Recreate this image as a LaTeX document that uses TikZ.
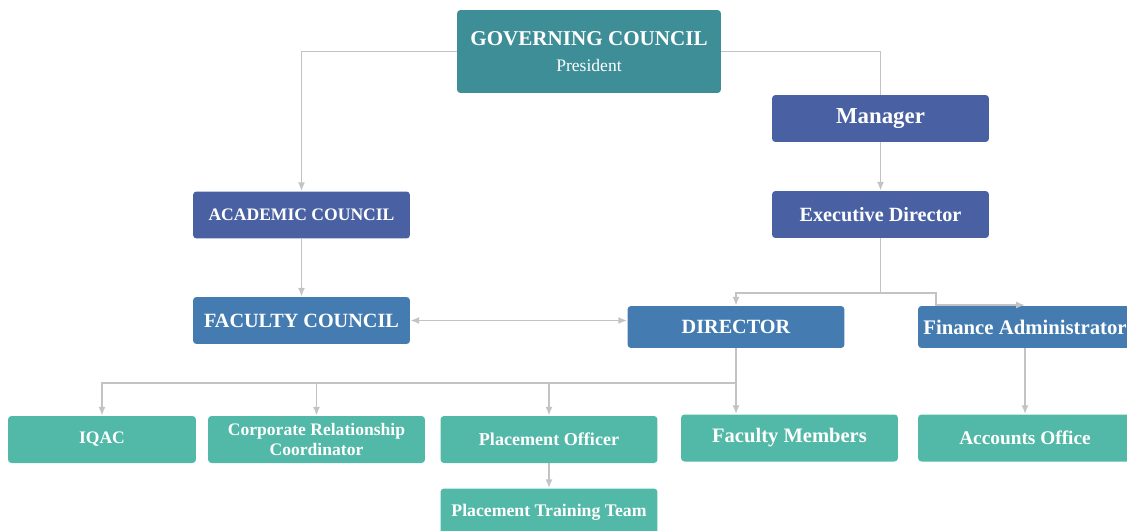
\documentclass[tikz,border=0pt]{standalone}
\usepackage{fontspec}
\setmainfont{Liberation Serif}
\usepackage{tikz}
\usetikzlibrary{arrows.meta, calc, positioning}

\definecolor{govteal}{HTML}{3E8E97}
\definecolor{slateblue}{HTML}{4961A2}
\definecolor{steelblue}{HTML}{447CB1}
\definecolor{mintgreen}{HTML}{52B8A7}
\definecolor{linegray}{HTML}{C3C3C3}

\begin{document}
\begin{tikzpicture}[x=0.02cm, y=-0.02cm,
  arro/.style = {draw=linegray, line width=1pt, -{Latex[length=5pt,width=4pt]}},
  arrboth/.style = {draw=linegray, line width=1pt, {Latex[length=5pt,width=4pt]}-{Latex[length=5pt,width=4pt]}},
  plain/.style = {draw=linegray, line width=1pt}]

\tikzstyle{unit} = [rounded corners=2pt, text=white, inner sep=2pt, minimum width=4.34cm, minimum height=0.94cm, font=\bfseries]
\tikzstyle{upper} = [unit, fill=slateblue]
\tikzstyle{middle} = [unit, fill=steelblue]
\tikzstyle{lower} = [unit, fill=mintgreen]

\useasboundingbox (0,0) rectangle (1127,531);

% top
\node[unit, fill=govteal, minimum width=5.28cm, minimum height=1.66cm, align=center]
  at (589,51.5) (gc) {\fontsize{12}{15}\selectfont GOVERNING COUNCIL\\[3pt]
  \fontsize{10}{12}\selectfont\mdseries President};
% right branch
\node[upper, font=\bfseries\fontsize{13}{15}\selectfont] at (880.5,118.5) (mgr) {Manager};
\node[upper, font=\bfseries\fontsize{11.5}{14}\selectfont] at (880.5,214.5) (exec) {Executive Director};
% left branch
\node[upper, font=\bfseries\fontsize{10}{12}\selectfont] at (301.5,215) (acad) {ACADEMIC COUNCIL};
\node[middle, font=\bfseries\fontsize{11.5}{14}\selectfont] at (301.5,320.5) (fac) {FACULTY COUNCIL};
% middle row
\node[middle, minimum height=0.84cm, font=\bfseries\fontsize{11.5}{14}\selectfont] at (736,327) (dir) {DIRECTOR};
\node[middle, minimum height=0.84cm, minimum width=4.28cm, font=\bfseries\fontsize{11.8}{14}\selectfont] at (1025,327) (fin) {Finance Administrator};
% bottom row
\node[lower, minimum width=3.76cm, font=\bfseries\fontsize{10}{12}\selectfont] at (102,439.5) (iqac) {IQAC};
\node[lower, align=center, font=\bfseries\fontsize{10}{11.5}\selectfont] at (316.5,439.5) (corp) {Corporate Relationship\\Coordinator};
\node[lower, font=\bfseries\fontsize{10.3}{12}\selectfont] at (549,439.5) (po) {Placement Officer};
\node[lower, font=\bfseries\fontsize{11.7}{14}\selectfont] at (789.5,438) (fm) {Faculty Members};
\node[lower, minimum width=4.28cm, font=\bfseries\fontsize{11}{14}\selectfont] at (1025,438) (acc) {Accounts Office};
\node[lower, font=\bfseries\fontsize{10.1}{12}\selectfont] at (549,512) (ptt) {Placement Training Team};

% connections from the top
\draw[arro] (gc.west) -| (acad.north);
\draw[plain] (gc.east) -| (mgr.north);
\draw[arro] (mgr) -- (exec);
\draw[arro] (acad) -- (fac);
% executive director split
\coordinate (split) at (880.5,293);
\coordinate (bend) at (936,305);
\draw[plain] (exec.south) -- (split);
\draw[arro] (split) -| (dir.north);
\draw[arro] (split) -| (bend) -- (bend -| fin.north);
% faculty council and director
\draw[arrboth] (fac.east) -- (fac.east -| dir.west);
% director bus
\coordinate (bus) at (736,383);
\draw[arro] (dir.south) -- (dir.south |- fm.north);
\draw[arro] (bus) -| (iqac.north);
\draw[arro] (bus -| corp.north) -- (corp.north);
\draw[arro] (bus -| po.north) -- (po.north);
% lower links
\draw[arro] (po) -- (ptt);
\draw[arro] (fin) -- (acc);
\end{tikzpicture}
\end{document}
